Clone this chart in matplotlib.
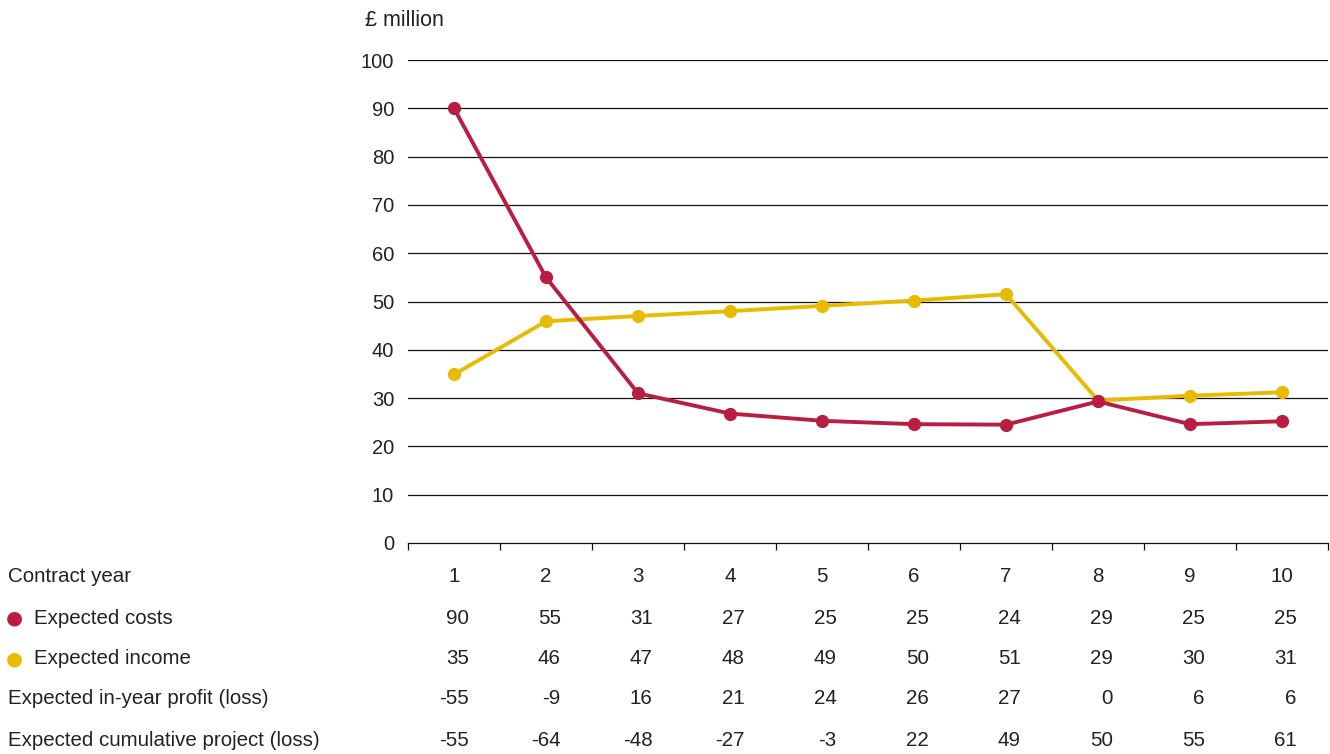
import matplotlib
matplotlib.use("Agg")
import matplotlib.pyplot as plt

years = [1, 2, 3, 4, 5, 6, 7, 8, 9, 10]
costs_plot = [90, 55, 31.0, 26.8, 25.3, 24.6, 24.5, 29.3, 24.6, 25.2]
income_plot = [34.9, 45.9, 47.0, 48.0, 49.1, 50.2, 51.5, 29.5, 30.5, 31.2]

row_labels = ["Contract year", "Expected costs", "Expected income",
              "Expected in-year profit (loss)", "Expected cumulative project (loss)"]
costs_row = [90, 55, 31, 27, 25, 25, 24, 29, 25, 25]
income_row = [35, 46, 47, 48, 49, 50, 51, 29, 30, 31]
profit_row = [-55, -9, 16, 21, 24, 26, 27, 0, 6, 6]
cumulative_row = [-55, -64, -48, -27, -3, 22, 49, 50, 55, 61]

y_ticks = [0, 10, 20, 30, 40, 50, 60, 70, 80, 90, 100]

RED = "#BA1D42"
YELLOW = "#E9BB00"
TXT = "#222222"

plt.rcParams["font.family"] = ["Liberation Sans", "DejaVu Sans"]

W, H = 1330, 754
fig = plt.figure(figsize=(W / 100, H / 100), dpi=100)
ax = fig.add_axes([408 / W, 1 - 543 / H, (1328 - 408) / W, (543 - 60) / H])

ax.set_xlim(0.5, 10.5)
ax.set_ylim(0, 100)
for v in y_ticks[1:]:
    ax.axhline(v, color="#111111", lw=0.9, zorder=1)

ax.plot(years, income_plot, color=YELLOW, lw=2.8, marker="o", ms=8.5, zorder=3)
ax.plot(years, costs_plot, color=RED, lw=2.8, marker="o", ms=8.5, zorder=4)

for s in ["top", "right", "left"]:
    ax.spines[s].set_visible(False)
ax.spines["bottom"].set_color("#111111")
ax.spines["bottom"].set_linewidth(0.9)
ax.set_xticks([y - 0.5 for y in years] + [10.5])
ax.set_xticklabels([])
ax.tick_params(axis="x", direction="out", length=5, width=0.9, color="#111111")
ax.set_yticks(y_ticks)
ax.set_yticklabels([str(v) for v in y_ticks], fontsize=14.5, color=TXT)
ax.tick_params(axis="y", length=0, pad=10)

fig.text(365 / W, 1 - 20 / H, "£ million", fontsize=15.5, color=TXT, va="center", ha="left")

# table rows
row_y = [577, 618, 659, 699, 740]
fs = 14.8
for i, lab in enumerate(row_labels):
    yy = 1 - row_y[i] / H
    if i in (1, 2):
        fig.text(14 / W, yy, "●", fontsize=14, color=RED if i == 1 else YELLOW,
                 ha="center", va="center", family="DejaVu Sans")
        fig.text(34 / W, yy, lab, fontsize=fs, color=TXT, ha="left", va="center")
    else:
        fig.text(8 / W, yy, lab, fontsize=fs, color=TXT, ha="left", va="center")

rows = [years, costs_row, income_row, profit_row, cumulative_row]
for i, vals in enumerate(rows):
    yy = 1 - row_y[i] / H
    for x, v in zip(years, vals):
        if i == 0:
            xd = ax.transData.transform((x, 0))[0]
            fig.text(xd / W, yy, str(v), fontsize=fs, color=TXT, ha="center", va="center")
        else:
            xd = ax.transData.transform((x + 0.16, 0))[0]
            fig.text(xd / W, yy, str(v), fontsize=fs, color=TXT, ha="right", va="center")

fig.savefig("out.png", dpi=100)
